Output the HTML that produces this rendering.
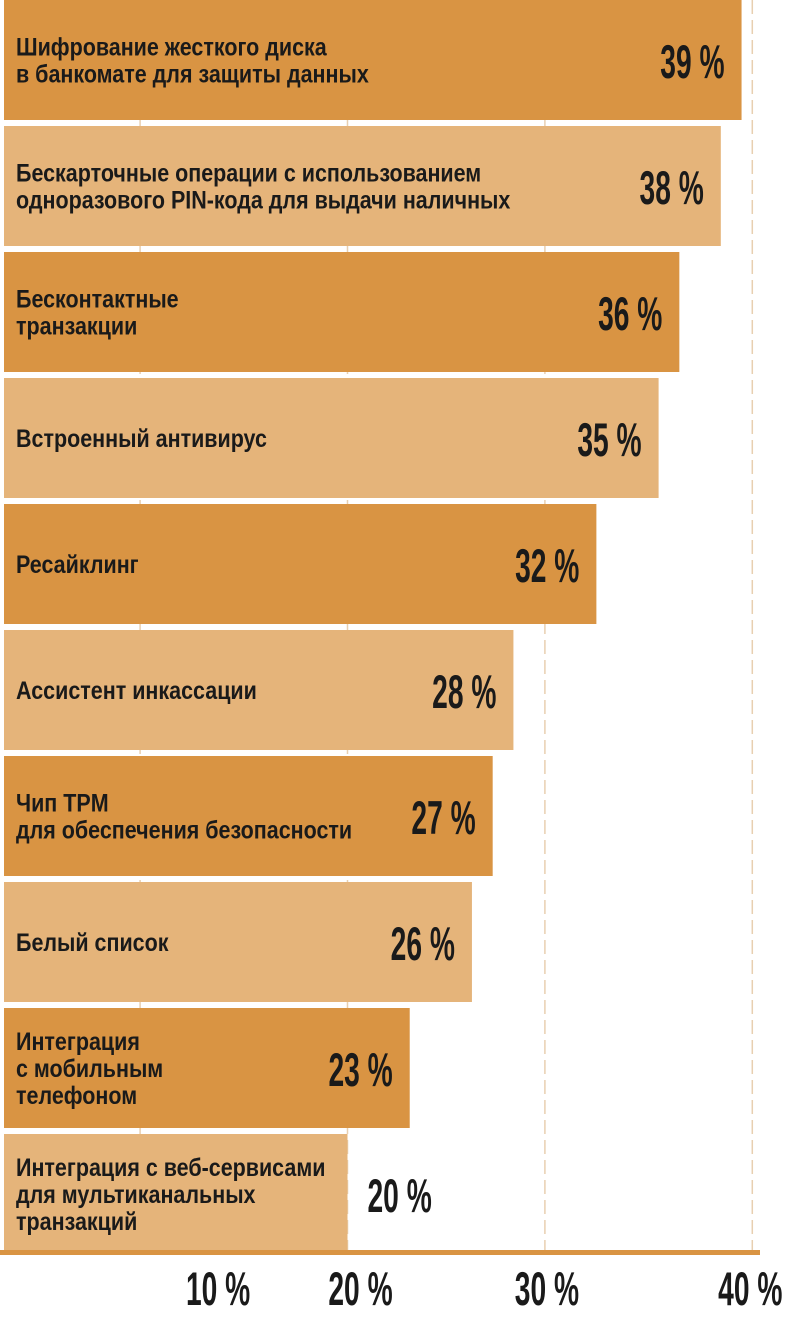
<!DOCTYPE html>
<html><head><meta charset="utf-8"><style>
html,body{margin:0;padding:0;background:#fff;}
svg{display:block;font-family:"Liberation Sans",sans-serif;}
</style></head><body>
<svg id="chart" width="800" height="1330" viewBox="0 0 800 1330" xmlns="http://www.w3.org/2000/svg"></svg>
<script>
const categories = [
 ["Шифрование жесткого диска","в банкомате для защиты данных"],
 ["Бескарточные операции с использованием","одноразового PIN-кода для выдачи наличных"],
 ["Бесконтактные","транзакции"],
 ["Встроенный антивирус"],
 ["Ресайклинг"],
 ["Ассистент инкассации"],
 ["Чип TPM","для обеспечения безопасности"],
 ["Белый список"],
 ["Интеграция","с мобильным","телефоном"],
 ["Интеграция с веб-сервисами","для мультиканальных","транзакций"]
];
const values = [39,38,36,35,32,28,27,26,23,20];
const tickValues = [10,20,30,40];
const tickLabels = ["10 %","20 %","30 %","40 %"];

const NS="http://www.w3.org/2000/svg";
const svg=document.getElementById('chart');
function x(v){return -67.3+20.74*v;}
const barLeft=4, pitch=126, barH=120, baseY=1252;
function mk(t,a,p){const e=document.createElementNS(NS,t);for(const k in a)e.setAttribute(k,a[k]);(p||svg).appendChild(e);return e;}

tickValues.forEach((t,i)=>{
  const gx=x(t)-(i>=2?10:0);
  const g=mk('line',{x1:gx,x2:gx,y1:0,y2:baseY,stroke:'#e8cfb0','stroke-width':1.5,'stroke-dasharray':'14 6'});
  
  
});

values.forEach((v,i)=>{
  const top=i*pitch, cy=top+barH/2;
  const r=mk('rect',{x:barLeft,y:top,width:x(v)-barLeft,height:barH,fill:i%2?'#e5b47a':'#d99443'});
  
  
  const lines=categories[i];
  const lh=27, start=cy-(lines.length-1)*lh/2+9;
  lines.forEach((ln,j)=>{
    const t=mk('text',{transform:`translate(16,${start+j*lh}) scale(0.86,1)`,'font-size':25,'font-weight':'bold',fill:'#1a1a1a'});
    t.textContent=ln;
    
    
  });
  const outside = v<=20;
  const vx = outside ? x(v)+20 : x(v)-17;
  const vt=mk('text',{transform:`translate(${vx},${cy+18}) scale(0.6,1)`,'font-size':47,'font-weight':'bold',fill:'#1a1a1a','text-anchor':outside?'start':'end'});
  vt.textContent=v+' %';
  
  
});

const base=mk('rect',{x:0,y:baseY-2,width:760,height:5,fill:'#d99443'});



const tickShift=[78,13,-8,-12];
tickValues.forEach((t,i)=>{
  const tx=mk('text',{transform:`translate(${x(t)+tickShift[i]},1305) scale(0.6,1)`,'font-size':47,'font-weight':'bold',fill:'#1a1a1a','text-anchor':'middle'});
  tx.textContent=tickLabels[i];
  
  
});
</script>
</body></html>
